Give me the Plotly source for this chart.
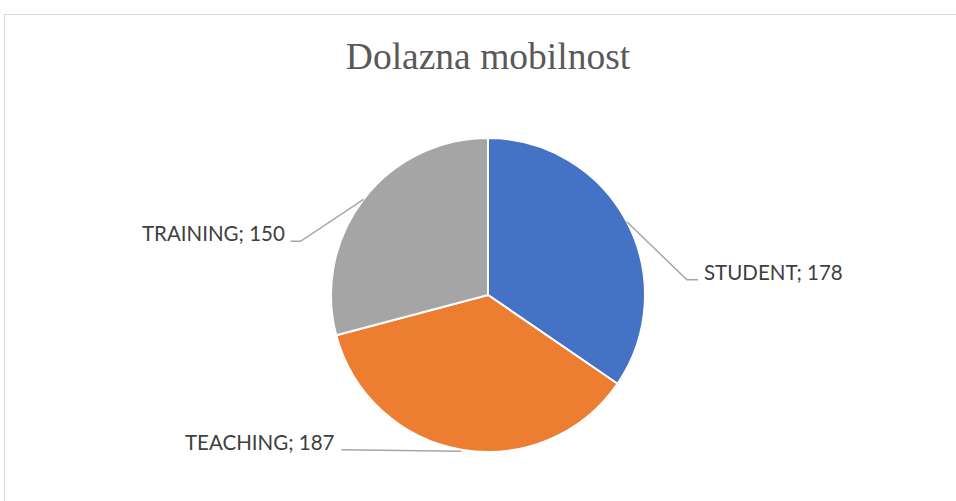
import math
import plotly.graph_objects as go

categories = ["STUDENT", "TEACHING", "TRAINING"]
values = [178, 187, 150]
colors = ["#4472C4", "#ED7D31", "#A5A5A5"]
title_text = "Dolazna mobilnost"

W, H = 956, 501
CX, CY, R = 488, 295, 157

def px(x):
    return x / W

def py(y):
    return 1 - y / H

fig = go.Figure(go.Pie(
    labels=categories, values=values, sort=False, direction="clockwise", rotation=0,
    marker=dict(colors=colors, line=dict(color="white", width=2)),
    textinfo="none", hoverinfo="label+value", showlegend=False,
    domain=dict(x=[px(CX - R), px(CX + R)], y=[py(CY + R), py(CY - R)]),
))

# leader-line layout: (elbow dx, elbow dy, horizontal length, side)
leader = {
    "STUDENT": (60, 58, 11, 1),
    "TEACHING": (-1, 0, -119, -1),
    "TRAINING": (-63, 42, -10, -1),
}

shapes = [dict(type="rect", xref="paper", yref="paper",
               x0=px(4.5), y0=-0.05, x1=1.05, y1=py(14.5),
               line=dict(color="#D9D9D9", width=1), fillcolor="rgba(0,0,0,0)", layer="below")]
annotations = []
total = sum(values)
cum = 0
for cat, v in zip(categories, values):
    mid = (cum + v / 2) / total * 2 * math.pi
    cum += v
    ex = CX + R * math.sin(mid)
    ey = CY - R * math.cos(mid)
    dx, dy, hl, side = leader[cat]
    if cat == "TEACHING":
        ey += 1.5
        bx, by = ex + dx, ey
        endx, endy = bx + hl, by - 1.5
    else:
        bx, by = ex + dx, ey + dy
        endx, endy = bx + hl, by
    shapes.append(dict(type="path", xref="paper", yref="paper",
                       path=f"M {px(ex)},{py(ey)} L {px(bx)},{py(by)} L {px(endx)},{py(endy)}",
                       line=dict(color="#A6A6A6", width=1.5)))
    annotations.append(dict(
        x=px(endx + 4 * side), y=py(endy - 8), xref="paper", yref="paper",
        text=f"{cat}; {v}", showarrow=False,
        xanchor="left" if side > 0 else "right", yanchor="middle",
        font=dict(family="Lato", size=20.5, color="#404040")))

fig.update_layout(
    width=W, height=H, margin=dict(l=0, r=0, t=0, b=0),
    paper_bgcolor="white", plot_bgcolor="white",
    title=dict(text=title_text, x=px(488), xanchor="center", y=py(56), yanchor="middle",
               font=dict(family="Liberation Serif", size=37.5, color="#595959")),
    shapes=shapes, annotations=annotations,
)

fig.write_html("out.html", config={"displayModeBar": False},
               post_script="document.body.style.margin='0px';document.body.style.overflow='hidden';")
